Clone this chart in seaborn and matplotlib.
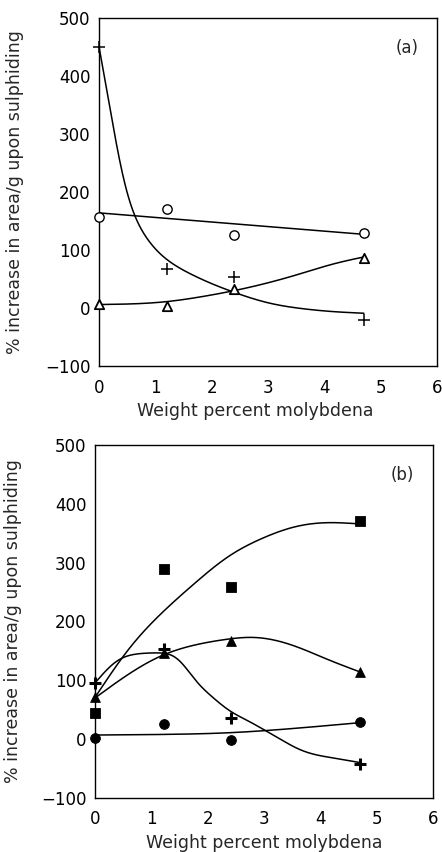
import numpy as np
import pandas as pd
import matplotlib
matplotlib.use("Agg")
import matplotlib.pyplot as plt
import seaborn as sns

sns.set_theme(style="white")
plt.rcParams["font.family"] = ["DejaVu Sans"]

# ---- measured points -------------------------------------------------
mo_wt = [0.0, 1.2, 2.4, 4.7]

# panel (a)
a_plus = [450, 67, 54, -21]
a_circle = [157, 171, 126, 129]
a_triangle = [7, 4, 32, 87]

# panel (b)
b_mo_wt = [0.0, 1.23, 2.41, 4.71]
b_square = [44, 289, 258, 371]
b_triangle = [71, 146, 166, 114]
b_plus = [95, 153, 36, -42]
b_circle = [2, 26, -2, 29]

# ---- hand-fitted trend curves (knots along each line) ---------------
a_plus_fit_x = [0, 0.2, 0.4, 0.6, 0.8, 1.0, 1.2, 1.6, 2.0, 2.4, 3.0, 3.6, 4.2, 4.7]
a_plus_fit_y = [450, 342, 238, 168, 128, 102, 84, 60, 42, 27, 9, -1, -6.5, -9]
a_tri_fit_x = [0, 1.2, 1.85, 2.4, 2.98, 3.57, 4.16, 4.7]
a_tri_fit_y = [6, 11, 20, 30, 43, 59, 76, 88]
a_circ_fit_x = [0, 4.7]
a_circ_fit_y = [164, 127]

b_sq_fit_x = [0, 0.59, 1.18, 1.77, 2.36, 2.96, 3.55, 4.14, 4.67]
b_sq_fit_y = [71, 152, 214, 265, 310, 341, 361, 368, 366]
b_tri_fit_x = [0, 0.36, 0.77, 1.21, 1.77, 2.36, 2.78, 3.55, 4.14, 4.71]
b_tri_fit_y = [70, 95, 121, 143, 160, 170, 173, 158, 135, 114]
b_plus_fit_x = [0, 0.36, 0.77, 1.18, 1.42, 1.59, 1.77, 2.07, 2.36, 2.72, 2.96, 3.2, 3.64, 4.23, 4.71]
b_plus_fit_y = [95, 131, 145, 146, 140, 124, 101, 73, 50, 31, 18, 5, -18, -32, -40]
b_circ_fit_x = [0, 1.2, 2.4, 3.5, 4.7]
b_circ_fit_y = [7, 8, 11, 18, 28]

x_ticks = [0, 1, 2, 3, 4, 5, 6]
y_ticks = [-100, 0, 100, 200, 300, 400, 500]
y_tick_labels = ["\u2212100", "0", "100", "200", "300", "400", "500"]


def natural_spline(xk, yk, xs):
    """Natural cubic spline through the knots."""
    x = np.asarray(xk, float)
    y = np.asarray(yk, float)
    n = len(x)
    h = np.diff(x)
    a = np.zeros((n, n))
    r = np.zeros(n)
    a[0, 0] = a[-1, -1] = 1.0
    for i in range(1, n - 1):
        a[i, i - 1] = h[i - 1]
        a[i, i] = 2 * (h[i - 1] + h[i])
        a[i, i + 1] = h[i]
        r[i] = 6 * ((y[i + 1] - y[i]) / h[i] - (y[i] - y[i - 1]) / h[i - 1])
    m = np.linalg.solve(a, r)
    idx = np.clip(np.searchsorted(x, xs) - 1, 0, n - 2)
    x0, x1 = x[idx], x[idx + 1]
    hh = h[idx]
    return (m[idx] * (x1 - xs) ** 3 / (6 * hh)
            + m[idx + 1] * (xs - x0) ** 3 / (6 * hh)
            + (y[idx] / hh - m[idx] * hh / 6) * (x1 - xs)
            + (y[idx + 1] / hh - m[idx + 1] * hh / 6) * (xs - x0))


def smooth_curve(xk, yk, n=400, lam=3e3):
    xs = np.linspace(xk[0], xk[-1], n)
    if len(xk) == 2:
        return xs, np.interp(xs, xk, yk)
    ys = natural_spline(xk, yk, xs)
    # light second-difference penalty to iron out small wobbles
    d2 = np.diff(np.eye(n), 2, axis=0)
    return xs, np.linalg.solve(np.eye(n) + lam * d2.T @ d2, ys)


def curve(ax, xk, yk, lam=3e3):
    xs, ys = smooth_curve(xk, yk, lam=lam)
    sns.lineplot(x=xs, y=ys, ax=ax, color="black", lw=1.1, sort=False,
                 estimator=None)


def style_axes(ax, tag, xlab_x, ylab_x):
    ax.set_xlim(0, 6)
    ax.set_ylim(-100, 500)
    ax.set_xticks(x_ticks)
    ax.set_yticks(y_ticks)
    ax.set_yticklabels(y_tick_labels)
    ax.tick_params(direction="in", length=4, width=0.9, colors="black",
                   labelsize=12)
    ax.tick_params(axis="x", pad=9)
    ax.tick_params(axis="y", pad=6)
    for s in ax.spines.values():
        s.set_visible(True)
        s.set_color("black")
        s.set_linewidth(1.0)
    ax.set_xlabel("Weight percent molybdena", fontsize=12.5)
    ax.set_ylabel("% increase in area/g upon sulphiding", fontsize=12.5)
    ax.xaxis.set_label_coords(xlab_x, -0.102)
    ax.yaxis.set_label_coords(ylab_x, 0.5)
    ax.text(0.91, 0.915, tag, transform=ax.transAxes, fontsize=12,
            ha="center", va="center")
    ax.grid(False)


fig = plt.figure(figsize=(4.42, 8.52), dpi=100)
ax_a = fig.add_axes([0.224, 0.5704, 0.765, 0.4085])
ax_b = fig.add_axes([0.215, 0.0634, 0.765, 0.4143])

# panel (a)
curve(ax_a, a_plus_fit_x, a_plus_fit_y, lam=1.5e3)
curve(ax_a, a_tri_fit_x, a_tri_fit_y)
curve(ax_a, a_circ_fit_x, a_circ_fit_y)
sns.scatterplot(x=mo_wt, y=a_plus, ax=ax_a, marker="+", s=70, color="black",
                linewidth=1.1, zorder=3, clip_on=False)
sns.scatterplot(x=mo_wt, y=a_circle, ax=ax_a, marker="o", s=45,
                facecolor="white", edgecolor="black", linewidth=1.0,
                zorder=3, clip_on=False)
sns.scatterplot(x=mo_wt, y=a_triangle, ax=ax_a, marker="^", s=45,
                facecolor="white", edgecolor="black", linewidth=1.3,
                zorder=3, clip_on=False)
style_axes(ax_a, "(a)", 0.462, -0.222)

# panel (b)
curve(ax_b, b_sq_fit_x, b_sq_fit_y)
curve(ax_b, b_tri_fit_x, b_tri_fit_y)
curve(ax_b, b_plus_fit_x, b_plus_fit_y, lam=3e3)
curve(ax_b, b_circ_fit_x, b_circ_fit_y)
sns.scatterplot(x=b_mo_wt, y=b_square, ax=ax_b, marker="s", s=55,
                color="black", edgecolor="black", zorder=3, clip_on=False)
sns.scatterplot(x=b_mo_wt, y=b_triangle, ax=ax_b, marker="^", s=50,
                color="black", edgecolor="black", zorder=3, clip_on=False)
sns.scatterplot(x=b_mo_wt, y=b_plus, ax=ax_b, marker="+", s=75,
                color="black", linewidth=2.2, zorder=3, clip_on=False)
sns.scatterplot(x=b_mo_wt, y=b_circle, ax=ax_b, marker="o", s=50,
                color="black", edgecolor="black", zorder=3, clip_on=False)
style_axes(ax_b, "(b)", 0.5, -0.215)

fig.savefig("out.png", dpi=100)
